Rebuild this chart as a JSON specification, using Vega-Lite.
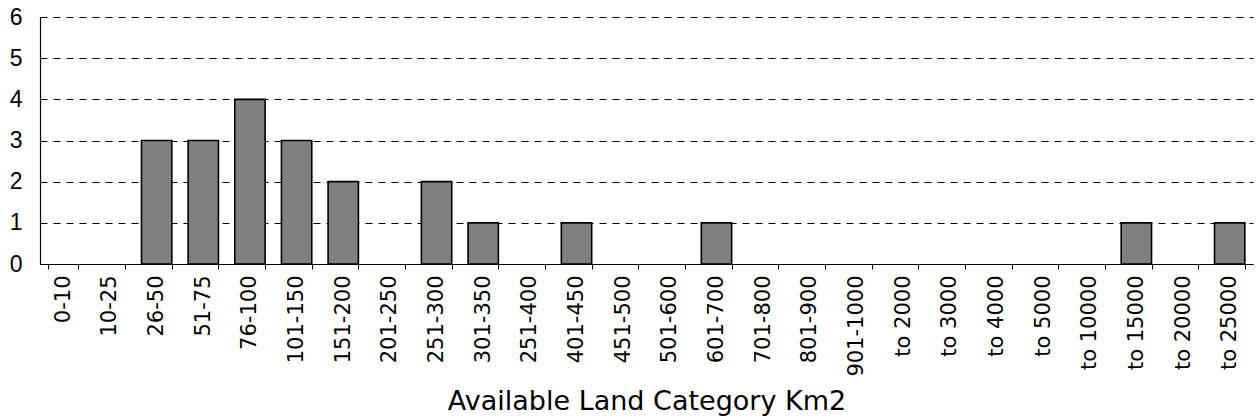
{
  "$schema": "https://vega.github.io/schema/vega-lite/v6.json",
  "autosize": "none",
  "width": 1213,
  "height": 247,
  "padding": {"left": 40, "top": 17, "right": 4, "bottom": 155},
  "background": "white",
  "data": {
    "values": [
      {"category": "0-10", "count": 0},
      {"category": "10-25", "count": 0},
      {"category": "26-50", "count": 3},
      {"category": "51-75", "count": 3},
      {"category": "76-100", "count": 4},
      {"category": "101-150", "count": 3},
      {"category": "151-200", "count": 2},
      {"category": "201-250", "count": 0},
      {"category": "251-300", "count": 2},
      {"category": "301-350", "count": 1},
      {"category": "251-400", "count": 0},
      {"category": "401-450", "count": 1},
      {"category": "451-500", "count": 0},
      {"category": "501-600", "count": 0},
      {"category": "601-700", "count": 1},
      {"category": "701-800", "count": 0},
      {"category": "801-900", "count": 0},
      {"category": "901-1000", "count": 0},
      {"category": "to 2000", "count": 0},
      {"category": "to 3000", "count": 0},
      {"category": "to 4000", "count": 0},
      {"category": "to 5000", "count": 0},
      {"category": "to 10000", "count": 0},
      {"category": "to 15000", "count": 1},
      {"category": "to 20000", "count": 0},
      {"category": "to 25000", "count": 1}
    ]
  },
  "config": {"view": {"stroke": null}},
  "mark": {"type": "bar", "color": "#808080", "stroke": "black", "strokeWidth": 1.6},
  "encoding": {
    "x": {
      "field": "category",
      "type": "nominal",
      "sort": null,
      "scale": {"paddingInner": 0.35, "paddingOuter": 0.175},
      "axis": {
        "title": "Available Land Category Km2",
        "titleFont": "DejaVu Sans",
        "titleFontSize": 27,
        "titleFontWeight": "normal",
        "titleColor": "black",
        "titlePadding": 12,
        "labelAngle": -90,
        "labelAlign": "right",
        "labelBaseline": "middle",
        "labelFont": "DejaVu Sans",
        "labelFontSize": 21,
        "labelColor": "black",
        "labelPadding": 6,
        "labelOverlap": false,
        "tickBand": "extent",
        "tickColor": "black",
        "tickSize": 5,
        "domainColor": "black",
        "domainWidth": 1.2,
        "grid": false
      }
    },
    "y": {
      "field": "count",
      "type": "quantitative",
      "scale": {"domain": [0, 6], "nice": false},
      "axis": {
        "title": null,
        "values": [0, 1, 2, 3, 4, 5, 6],
        "labelFont": "Liberation Sans",
        "labelFontSize": 23,
        "labelColor": "black",
        "labelPadding": 18,
        "ticks": false,
        "domainColor": "black",
        "domainWidth": 1.2,
        "grid": true,
        "gridColor": "black",
        "gridDash": [7, 6],
        "gridWidth": 1
      }
    },
    "strokeOpacity": {"condition": {"test": "datum.count > 0", "value": 1}, "value": 0}
  }
}
